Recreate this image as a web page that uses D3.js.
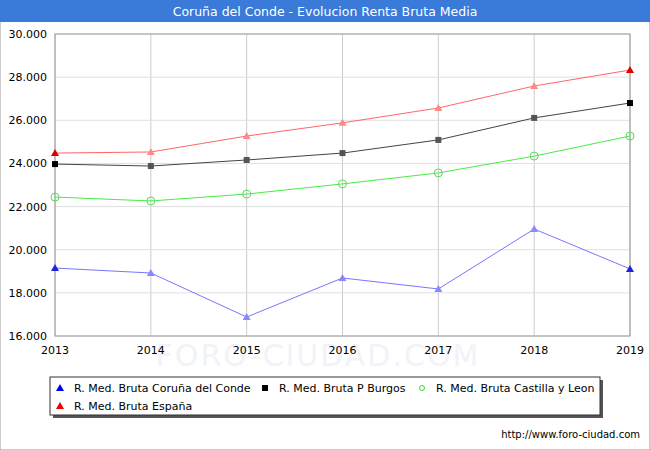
<!DOCTYPE html><html><head><meta charset="utf-8">
<script src="https://cdn.jsdelivr.net/npm/d3@7"></script>
<style>body{margin:0;background:#fff}</style></head><body>
<svg id="c" width="650" height="450"></svg>
<script>
const years=[2013,2014,2015,2016,2017,2018,2019];
const coruna=[19150,18920,16880,18690,18180,20960,19110];
const burgos=[23970,23880,24160,24480,25090,26110,26800];
const cyl=[22440,22260,22580,23050,23560,24340,25270];
const espana=[24480,24530,25270,25880,26570,27590,28330];
const yTicks=[16000,18000,20000,22000,24000,26000,28000,30000];
const svg=d3.select("#c");
svg.append("rect").attr("x",0).attr("y",0).attr("width",650).attr("height",450).attr("fill","#fff").attr("stroke","#999");
svg.append("rect").attr("x",0).attr("y",0).attr("width",650).attr("height",22).attr("fill","#3a7ad8");
svg.append("text").attr("x",325).attr("y",16).attr("text-anchor","middle").attr("fill","#fff").attr("font-family","DejaVu Sans").attr("font-size",12.5).text("Coruña del Conde - Evolucion Renta Bruta Media");
const x=d3.scaleLinear().domain([2013,2019]).range([55,630]);
const y=d3.scaleLinear().domain([16000,30000]).range([336,34]);
const g=svg.append("g");
g.selectAll(".vg").data(years).join("line").attr("x1",d=>x(d)).attr("x2",d=>x(d)).attr("y1",34).attr("y2",336).attr("stroke","#ccc");
g.selectAll(".hg").data(yTicks).join("line").attr("x1",55).attr("x2",630).attr("y1",d=>y(d)).attr("y2",d=>y(d)).attr("stroke","#e0e0e0");
svg.append("text").attr("x",318).attr("y",366).attr("text-anchor","middle").attr("font-family","DejaVu Sans").attr("font-size",30).attr("fill","#f1f3f8").attr("letter-spacing",2).text("FORO-CIUDAD.COM");
svg.append("rect").attr("x",55).attr("y",34).attr("width",575).attr("height",302).attr("fill","none").attr("stroke","#999");
svg.selectAll(".yl").data(yTicks).join("text").attr("x",47).attr("y",d=>y(d)+4).attr("text-anchor","end").attr("font-family","DejaVu Sans").attr("font-size",11).text(d=>d3.format(",.3f")(d/1000).replace(",",""));
svg.selectAll(".xl").data(years).join("text").attr("x",d=>x(d)).attr("y",354).attr("text-anchor","middle").attr("font-family","DejaVu Sans").attr("font-size",11).text(d=>d);
const series=[
 {v:coruna,line:"#7777ff",mk:"#8888ff",end:"#2222dd",sh:"tri",name:"R. Med. Bruta Coruña del Conde",lg:"#0000ee"},
 {v:burgos,line:"#444",mk:"#555",end:"#000",sh:"sq",name:"R. Med. Bruta P Burgos",lg:"#000"},
 {v:cyl,line:"#44ee44",mk:"#55dd55",end:"#aaa",sh:"circ",name:"R. Med. Bruta Castilla y Leon",lg:"#33dd33"},
 {v:espana,line:"#ff6666",mk:"#ff8888",end:"#dd0000",sh:"tri",name:"R. Med. Bruta España",lg:"#ee0000"}];
const line=d3.line().x((d,i)=>x(years[i])).y(d=>y(d));
function mark(sel,sh,cx,cy,col,r){
 r=r||4;
 if(sh=="tri")sel.append("path").attr("d",`M${cx},${cy-4}L${cx+4},${cy+3}L${cx-4},${cy+3}Z`).attr("fill",col);
 else if(sh=="sq")sel.append("rect").attr("x",cx-3).attr("y",cy-3).attr("width",6).attr("height",6).attr("fill",col);
 else sel.append("circle").attr("cx",cx).attr("cy",cy).attr("r",r).attr("fill","none").attr("stroke",col);
}
series.forEach(s=>{
 svg.append("path").attr("d",line(s.v)).attr("fill","none").attr("stroke",s.line).attr("stroke-width",1);
 s.v.forEach((d,i)=>mark(svg,s.sh,x(years[i]),y(d),(i==0||i==6)&&s.sh!="circ"?s.end:s.mk));
});
svg.append("rect").attr("x",53).attr("y",380).attr("width",550).attr("height",38).attr("fill","#555");
svg.append("rect").attr("x",50).attr("y",377).attr("width",550).attr("height",38).attr("fill","#fff").attr("stroke","#333");
const lp=[[60,389],[265,389],[422,389],[60,407]];
series.forEach((s,i)=>{
 mark(svg,s.sh,lp[i][0],lp[i][1]-1,s.lg,2.5);
 svg.append("text").attr("x",lp[i][0]+14).attr("y",lp[i][1]+3).attr("font-family","DejaVu Sans").attr("font-size",11).text(s.name);
});
svg.append("text").attr("x",640).attr("y",438).attr("text-anchor","end").attr("font-family","DejaVu Sans").attr("font-size",10).text("http://www.foro-ciudad.com");
</script></body></html>
